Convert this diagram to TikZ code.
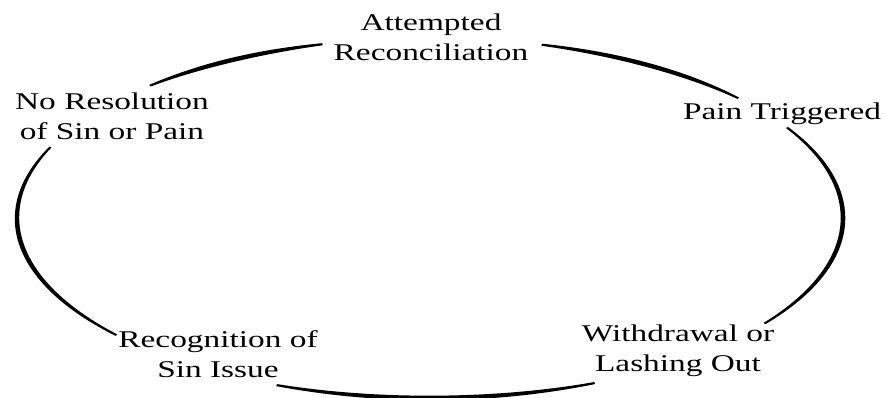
\documentclass[tikz,border=0pt]{standalone}
\usepackage{fontspec}
\setmainfont{Liberation Serif}
\usepackage{graphicx}
\def\cx{430}\def\cy{180}\def\rx{413}\def\ry{180}
\newcommand\taperarc[2]{%
  \fill[black] plot[domain=#1:#2, samples=60, variable=\t]
    ({\cx+(\rx+(1.1+1.2*sin(180*(\t-#1)/(#2-#1))))*cos(\t)},
     {\cy+(\ry+(1.1+1.2*sin(180*(\t-#1)/(#2-#1))))*sin(\t)})
  -- plot[domain=#2:#1, samples=60, variable=\t]
    ({\cx+(\rx-(1.1+1.2*sin(180*(\t-#1)/(#2-#1))))*cos(\t)},
     {\cy+(\ry-(1.1+1.2*sin(180*(\t-#1)/(#2-#1))))*sin(\t)})
  -- cycle;}
\newcommand\twolines[2]{\scalebox{1.39}[1]{\begin{tabular}{@{}c@{}}#1\\#2\end{tabular}}}
\newcommand\oneline[1]{\scalebox{1.39}[1]{\begin{tabular}{@{}c@{}}#1\end{tabular}}}
\tikzset{lbl/.style={font=\fontsize{24}{30}\selectfont, inner sep=0pt, text=black}}
\begin{document}
\begin{tikzpicture}[x=1pt,y=1pt]
\useasboundingbox (0,0) rectangle (887,398);
\fill[white] (0,0) rectangle (887,398);
\node[lbl] (att) at (431,358) {\twolines{Attempted}{Reconciliation}};
\node[lbl] (pain) at (782,284) {\oneline{Pain Triggered}};
\node[lbl] (nores) at (112,279) {\twolines{No Resolution}{of Sin or Pain}};
\node[lbl] (recog) at (218,41) {\twolines{Recognition of}{Sin Issue}};
\node[lbl] (withd) at (678,47) {\twolines{Withdrawal or}{Lashing Out}};
\taperarc{105.1}{132.7}
\taperarc{41.7}{74.3}
\taperarc{-35.9}{30.2}
\taperarc{-111.8}{-66.5}
\taperarc{156.8}{220.6}
\end{tikzpicture}
\end{document}
